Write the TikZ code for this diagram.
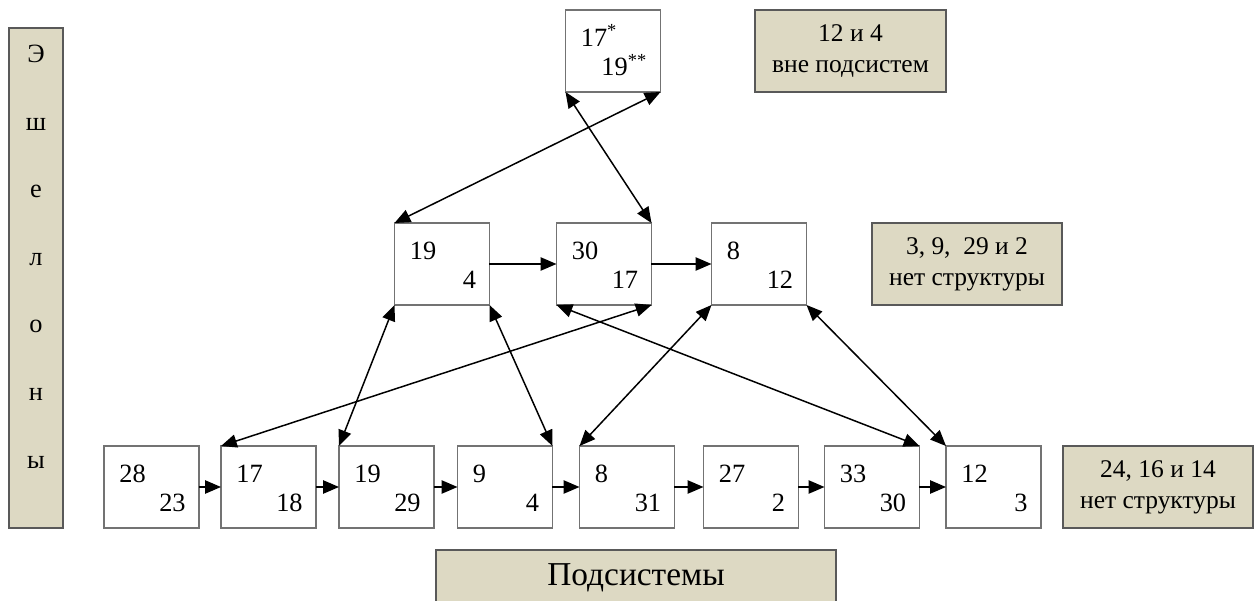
\documentclass[tikz,border=0pt]{standalone}
\usepackage{fontspec}
\setmainfont{Liberation Serif}
\usetikzlibrary{calc,arrows.meta}
\definecolor{khaki}{HTML}{DDD9C3}
\tikzset{x=0.02cm,y=-0.02cm,
  elem/.style={draw=black!55,line width=0.9pt,minimum width=1.9cm,minimum height=1.64cm,inner sep=0,outer sep=0},
  num/.style={inner sep=0,font=\fontsize{15}{18}\selectfont},
  note/.style={draw=black!65,line width=0.9pt,fill=khaki,inner sep=0,outer sep=0,align=center,font=\fontsize{14.5}{17.5}\selectfont},
  link/.style={-{Triangle[length=9pt,width=7.5pt]},line width=0.85pt},
  both/.style={{Triangle[length=9pt,width=7.5pt]}-{Triangle[length=9pt,width=7.5pt]},line width=0.85pt}}
% name, x, y, upper number, lower number
\newcommand{\elembox}[5]{%
  \node[elem] (#1) at (#2,#3) {};
  \node[num,anchor=base west] at ($(#1.north west)+(15,36)$) {#4};
  \node[num,anchor=base east] at ($(#1.south east)+(-13,-16)$) {#5};}
\begin{document}
\begin{tikzpicture}
\useasboundingbox (0,0) rectangle (1255,601);
% echelons and subsystems
\node[note,minimum width=1.08cm,minimum height=10cm] (ech) at (36,278) {};
\foreach \ch [count=\i from 0] in {Э,ш,е,л,о,н,ы}
  \node[num,anchor=base] at (36,63+67.5*\i) {\ch};
\node[note,minimum width=8cm,minimum height=1.12cm,font=\fontsize{19}{22}\selectfont] (subs) at (636,578) {Подсистемы};
% top
\elembox{ns}{613}{51}{17\textsuperscript{*}}{19\textsuperscript{**}}
\node[note,minimum width=3.82cm,minimum height=1.64cm] (n1) at (850.5,51) {12 и 4\\вне подсистем};
% middle
\elembox{m1}{442}{264}{19}{4}
\elembox{m2}{604}{264}{30}{17}
\elembox{m3}{759}{264}{8}{12}
\node[note,minimum width=3.8cm,minimum height=1.64cm] (n2) at (967,264) {3, 9,\ \ 29 и 2\\нет структуры};
% bottom
\elembox{b1}{151.5}{487}{28}{23}
\elembox{b2}{268.5}{487}{17}{18}
\elembox{b3}{386.5}{487}{19}{29}
\elembox{b4}{505}{487}{9}{4}
\elembox{b5}{627}{487}{8}{31}
\elembox{b6}{751}{487}{27}{2}
\elembox{b7}{872}{487}{33}{30}
\elembox{b8}{993.5}{487}{12}{3}
\node[note,minimum width=3.8cm,minimum height=1.64cm] (n3) at (1158,487) {24, 16 и 14\\нет структуры};
% links
\foreach \a/\b in {b1/b2,b2/b3,b3/b4,b4/b5,b5/b6,b6/b7,b7/b8,m1/m2,m2/m3}
  \draw[link] (\a) -- (\b);
\draw[both] (ns.south west) -- (m2.north east);
\draw[both] (ns.south east) -- (m1.north west);
\draw[both] (m1.south west) -- (b3.north west);
\draw[both] (m1.south east) -- (b4.north east);
\draw[both] (m2.south east) -- (b2.north west);
\draw[both] (m2.south west) -- (b7.north east);
\draw[both] (m3.south west) -- (b5.north west);
\draw[both] (m3.south east) -- (b8.north west);
\end{tikzpicture}
\end{document}
